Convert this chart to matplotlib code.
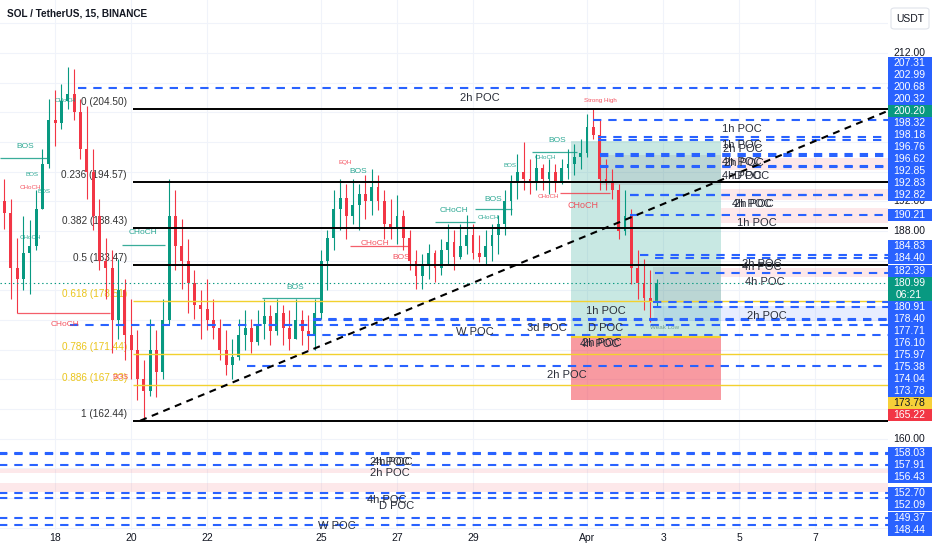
import numpy as np
import matplotlib.pyplot as plt
from matplotlib.patches import Rectangle, FancyBboxPatch

plt.rcParams['font.family'] = ['Liberation Sans', 'DejaVu Sans']
plt.rcParams['lines.scale_dashes'] = False

# ---------------- data ----------------
# 4h bars, time in "day of March" (Apr 1 = 32)
bar_start = 16.5
first_open = 190.0
closes = [192, 190.5, 183, 181.5, 185, 186, 191, 197, 203, 202.5,
          205.5, 206.5, 204, 199, 196, 190, 184, 183, 176, 180,
          174, 172, 168, 166.5, 172, 169, 176, 190, 186, 184,
          181, 178, 177.5, 176, 175, 172, 170, 171, 174, 175,
          173, 175.5, 176.5, 174.5, 177, 175, 173.5, 176, 174.5, 174,
          177, 184, 187, 191, 192.5, 190, 191.5, 193, 192, 194,
          192, 189, 188.5, 190, 187, 184, 182, 183.5, 185, 183,
          185.5, 186.5, 184.5, 186, 187.5, 185, 184.5, 186, 187.5, 189,
          192, 194.5, 196, 195, 194.5, 196.5, 195, 196, 194.5, 196.5,
          197, 198, 198.5, 202, 201, 195, 194.5, 193.5, 188, 190,
          183, 181, 179, 178.5, 180.99]
highs = [195.6, 195, 192.3, 187, 190, 189.5, 193.5, 199, 205.8, 207,
         207.8, 210.1, 209.8, 205.8, 204.8, 199, 192.3, 187, 185.5, 184.2,
         181.5, 178.8, 174.7, 170.6, 176.1, 174.7, 178.8, 195, 193.6, 189.6,
         186.9, 182.8, 180, 181.5, 178.8, 176.1, 174.7, 173.4, 176.1, 177.4,
         176.1, 177.4, 178.8, 178.1, 178.8, 178.1, 177.4, 178.8, 177.4, 176.7,
         178.8, 185.5, 188.2, 193.6, 195, 194.3, 195, 194.3, 195.6, 196.3,
         195.6, 193.6, 192.3, 192.9, 190.9, 188.2, 185.5, 184.9, 186.2, 185.5,
         186.9, 188.9, 188.2, 188.9, 190.2, 188.9, 187.5, 188.2, 188.9, 190.2,
         193.6, 195.6, 198.4, 200, 197.7, 198.4, 197, 197.7, 197, 197.7,
         199, 199.7, 200.4, 203.8, 204.4, 203, 197.7, 196.3, 194.3, 193.6,
         191, 185.5, 184.2, 182.8, 181.5]
lows = [187.5, 188.3, 178.8, 177, 180, 179.5, 185.5, 191, 196.5, 199.5,
        201.8, 204.4, 203, 197.7, 192.3, 188.2, 182.8, 178.8, 171.6, 173.4,
        170.6, 168, 165.2, 162.44, 165.8, 165.6, 168, 175.5, 182.8, 180.2,
        177, 176.1, 173.4, 174.7, 173.4, 170.6, 168.6, 168, 170.6, 172,
        171.5, 172.7, 173.4, 172.7, 174, 172.7, 172, 173.4, 172.7, 172,
        172, 176.1, 180, 185.5, 188.2, 186.9, 188.9, 188.2, 189.6, 190.2,
        190.9, 186.9, 186.9, 186.2, 185.5, 182.8, 180.2, 180.2, 181.5, 181.1,
        182.1, 183.5, 182.8, 184.2, 184.9, 184.2, 183.8, 183.5, 183.9, 184.9,
        187.5, 190.2, 192.3, 193.6, 193, 193.6, 193.6, 193, 193.3, 194.3,
        195, 195.6, 196.3, 198, 200.4, 193.6, 193.6, 192.3, 186.9, 187.5,
        180.8, 178.8, 177.4, 175.8, 177.7]

current_price = 180.99
countdown = "06:21"

# Fibonacci retracement
fib_high, fib_low = 204.50, 162.44
fib_levels = [0, 0.236, 0.382, 0.5, 0.618, 0.786, 0.886, 1]
fib_start = 20.05

# trend line anchors
trend_days = [20.24, 39.92]
trend_prices = [162.44, 204.2]

# long position tool
pos_start, pos_end = 31.58, 35.53
pos_entry, pos_target, pos_stop = 173.78, 200.20, 165.22

# POC lines (price, first day)
poc_prices = [207.31, 202.99, 200.68, 200.32, 198.32, 198.18, 196.76, 196.62,
              192.85, 192.83, 192.82, 190.21, 184.83, 184.40, 182.39, 178.40,
              177.71, 176.10, 175.97, 175.38, 174.04, 169.82,
              158.03, 157.91, 156.43, 152.70, 152.09, 149.37, 148.44]
poc_starts = [18.6, 32.16, 32.29, 32.29, 32.34, 32.34, 32.34, 32.34,
              33.13, 33.13, 33.13, 33.13, 33.39, 33.79, 33.79, 33.74,
              33.74, 24.79, 24.79, 18.39, 24.63, 23.05,
              16.0, 16.0, 16.0, 16.0, 16.0, 16.0, 16.0]

# POC names (text, day, price)
poc_names = [("2h POC", 29.18, 205.94), ("1h POC", 36.08, 201.76),
             ("1h POC", 36.08, 199.6), ("2h POC", 36.1, 199.06),
             ("4h POC", 36.08, 197.31), ("2h POC", 36.12, 197.15),
             ("4h POC", 36.08, 195.42), ("D POC", 36.34, 195.42),
             ("4h POC", 36.34, 191.65), ("2h POC", 36.38, 191.65),
             ("1h POC", 36.47, 189.09), ("2h POC", 36.6, 183.56),
             ("4h POC", 36.6, 183.16), ("4h POC", 36.68, 181.14),
             ("2h POC", 36.74, 176.56), ("1h POC", 32.5, 177.23),
             ("D POC", 32.5, 174.94), ("3d POC", 30.95, 174.94),
             ("W POC", 29.05, 174.4), ("4h POC", 32.34, 172.78),
             ("2h POC", 32.39, 172.98), ("2h POC", 31.47, 168.6),
             ("2h POC", 26.82, 156.88), ("4h POC", 26.9, 156.88),
             ("2h POC", 26.82, 155.4), ("4h POC", 26.74, 151.76),
             ("D POC", 27.0, 150.95), ("W POC", 25.42, 148.25)]

# supply / demand zones (low, high, first day, colour)
zones = [(196.23, 197.85, 35.53, '#f23645'), (192.19, 193.67, 35.53, '#f23645'),
         (189.09, 191.11, 35.53, '#f23645'), (181.81, 183.02, 35.53, '#f23645'),
         (175.9, 177.9, 33.76, '#2962ff'),
         (155.4, 155.93, 16.0, '#f23645'), (152.84, 154.05, 16.0, '#f23645')]
order_blocks = [(194.2, 198.3, 32.34, 35.53), (178.3, 183.2, 33.74, 35.53)]

# structure labels (text, day, price, colour, size)
smc_labels = [("BOS", 17.21, 199.33, 'g', 6), ("CHoCH", 18.26, 205.53, 'g', 4.5),
              ("CHoCH", 20.32, 187.74, 'g', 6), ("BOS", 24.32, 180.33, 'g', 6),
              ("BOS", 25.97, 195.96, 'g', 6), ("CHoCH", 28.5, 190.71, 'g', 6),
              ("BOS", 29.53, 192.32, 'g', 6), ("BOS", 31.21, 200.14, 'g', 6),
              ("BOS", 17.39, 195.56, 'g', 4.5), ("BOS", 17.71, 193.27, 'g', 4.5),
              ("CHoCH", 17.34, 187.07, 'g', 4.5), ("CHoCH", 29.39, 189.76, 'g', 4.5),
              ("CHoCH", 30.89, 197.85, 'g', 4.5), ("BOS", 29.97, 196.9, 'g', 4.5),
              ("CHoCH", 18.26, 175.34, 'r', 6), ("BOS", 19.71, 168.33, 'r', 5.5),
              ("CHoCH", 26.42, 186.39, 'r', 6), ("BOS", 27.1, 184.37, 'r', 6),
              ("CHoCH", 31.89, 191.51, 'r', 6.5), ("EQH", 25.63, 197.18, 'r', 4.5),
              ("CHoCH", 17.34, 193.81, 'r', 4.5), ("CHoCH", 30.97, 192.59, 'r', 4.5),
              ("Strong High", 32.34, 205.53, 'r', 4.5), ("Weak Low", 34.05, 174.94, 'w', 4.5)]
smc_lines = [(197.85, 16.55, 17.82, 'g'), (186.12, 19.76, 20.89, 'g'),
             (178.98, 23.45, 25.03, 'g'), (189.22, 28.0, 29.05, 'g'),
             (190.98, 29.05, 30.03, 'g'), (198.66, 30.55, 31.74, 'g'),
             (176.96, 17.0, 19.45, 'r'), (185.99, 25.76, 27.34, 'r'),
             (193.13, 31.29, 32.61, 'r')]

# price scale labels
axis_values = [207.31, 202.99, 200.68, 200.32, 200.20, 198.32, 198.18, 196.76,
               196.62, 192.85, 192.83, 192.82, 190.21, 184.83, 184.40, 182.39,
               180.91, 178.40, 177.71, 176.10, 175.97, 175.38, 174.04, 173.78,
               173.78, 165.22, 158.03, 157.91, 156.43, 152.70, 152.09, 149.37, 148.44]
axis_kinds = ['b', 'b', 'b', 'b', 'g', 'b', 'b', 'b',
              'b', 'b', 'b', 'b', 'b', 'b', 'b', 'b',
              'b', 'b', 'b', 'b', 'b', 'b', 'b', 'b',
              'y', 'r', 'b', 'b', 'b', 'b', 'b', 'b', 'b']
price_ticks = list(range(148, 217, 4))

date_ticks = [18, 20, 22, 25, 27, 29, 32, 34, 36, 38]
date_labels = ['18', '20', '22', '25', '27', '29', 'Apr', '3', '5', '7']

# ---------------- styles ----------------
UP, DOWN = '#089981', '#f23645'
BLUE = '#2962ff'
YELLOW = '#f2d12e'
TXT = '#131722'
SMC_COL = {'g': '#089981', 'r': '#f23645', 'w': '#5d8f86'}
KIND_COL = {'b': BLUE, 'g': '#089981', 'y': '#f7d038', 'r': '#f23645'}

W, H = 932, 550
fig = plt.figure(figsize=(W / 100, H / 100), dpi=100, facecolor='white')
ax = fig.add_axes([0, 20 / H, 888 / W, 530 / H])
xmin, xmax = 16.55, 39.92
ymin, ymax = 147.71, 219.14
ax.set_xlim(xmin, xmax)
ax.set_ylim(ymin, ymax)
ax.set_axis_off()

# grid
for p in price_ticks:
    ax.axhline(p, color='#f0f3fa', lw=0.8, zorder=0)
for d in date_ticks:
    ax.axvline(d, color='#f0f3fa', lw=0.8, zorder=0)

# zones
for lo, hi, d0, col in zones:
    ax.add_patch(Rectangle((d0, lo), xmax + 1 - d0, hi - lo, color=col, alpha=0.11, lw=0, zorder=1))

# position tool
ax.add_patch(Rectangle((pos_start, pos_entry), pos_end - pos_start, pos_target - pos_entry,
                       color='#089981', alpha=0.22, lw=0, zorder=1))
ax.add_patch(Rectangle((pos_start, pos_stop), pos_end - pos_start, pos_entry - pos_stop,
                       color='#f23645', alpha=0.5, lw=0, zorder=1))
for lo, hi, d0, d1 in order_blocks:
    ax.add_patch(Rectangle((d0, lo), d1 - d0, hi - lo, color='#787b86', alpha=0.16, lw=0, zorder=1))

# fib retracement
rng = fib_high - fib_low
for lvl in fib_levels:
    p = fib_high - lvl * rng
    col = YELLOW if lvl in (0.618, 0.786, 0.886) else 'black'
    lw = 1.0 if col == YELLOW else 1.4
    ax.hlines(p, fib_start, xmax + 1, colors=col, lw=lw, zorder=4)
    ax.text(19.89, p + 0.95, f"{lvl:g} ({p:.2f})", ha='right', va='center',
            fontsize=7.2, color='#eac51c' if col == YELLOW else '#333333', zorder=2)

# candles
n = len(closes)
t = bar_start + np.arange(n) / 6
opens = [first_open] + closes[:-1]
bw = 0.45 / 6
for ti, o, h, l, c in zip(t, opens, highs, lows, closes):
    col = UP if c >= o else DOWN
    ax.vlines(ti, l, h, colors=col, lw=0.8, zorder=3)
    ax.add_patch(Rectangle((ti - bw / 2, min(o, c)), bw, max(abs(c - o), 0.12),
                           color=col, lw=0, zorder=3))

# structure lines and labels
for p, d0, d1, k in smc_lines:
    ax.hlines(p, d0, d1, colors=SMC_COL[k], lw=0.9, alpha=0.8, zorder=3)
for txt, d, p, k, s in smc_labels:
    ax.text(d, p, txt, ha='center', va='center', fontsize=s, color=SMC_COL[k], alpha=0.85, zorder=5)

# POC lines
for p, d0 in zip(poc_prices, poc_starts):
    ax.hlines(p, d0, xmax + 1, colors=BLUE, lw=1.5, linestyles=(0, (6, 5)), zorder=4)
for txt, d, p in poc_names:
    ax.text(d, p, txt, ha='center', va='center', fontsize=8, color='#2a2e39', zorder=6)

# position entry line
ax.hlines(pos_entry, pos_start, pos_end, colors=YELLOW, lw=1.5, zorder=4)

# trend line
ax.plot(trend_days, trend_prices, color='black', lw=1.5, ls=(0, (5, 4)), zorder=4)

# current price line
ax.axhline(current_price, color='#089981', lw=0.8, ls=(0, (1, 2)), zorder=4)

# ---------------- price scale ----------------
def ypx(p):
    return H - 20 - (p - ymin) / (ymax - ymin) * 530

def fy(y):
    return 1 - y / H

for p in price_ticks:
    fig.text(909 / W, fy(ypx(p)), f"{p:.2f}", ha='center', va='center',
             fontsize=7.5, color=TXT, zorder=1)

placed = {}
cur_y = ypx(current_price)
limit = cur_y - 6
for i in sorted([i for i, v in enumerate(axis_values) if v > current_price], key=lambda i: axis_values[i]):
    y = min(ypx(axis_values[i]), limit - 6)
    placed[i] = y
    limit = y - 6
limit = cur_y + 18
for i in sorted([i for i, v in enumerate(axis_values) if v < current_price], key=lambda i: -axis_values[i]):
    y = max(ypx(axis_values[i]), limit + 6)
    placed[i] = y
    limit = y + 6

for i, y in placed.items():
    k = axis_kinds[i]
    fig.add_artist(Rectangle((888 / W, fy(y + 6)), 44 / W, 12 / H,
                             transform=fig.transFigure, color=KIND_COL[k], lw=0, zorder=2))
    fig.text(909 / W, fy(y), f"{axis_values[i]:.2f}", ha='center', va='center',
             fontsize=7.5, color=TXT if k == 'y' else 'white', zorder=3)

fig.add_artist(Rectangle((888 / W, fy(cur_y + 18)), 44 / W, 24 / H,
                         transform=fig.transFigure, color='#089981', lw=0, zorder=2))
fig.text(909 / W, fy(cur_y), f"{current_price:.2f}", ha='center', va='center',
         fontsize=7.5, color='white', zorder=3)
fig.text(909 / W, fy(cur_y + 11.5), countdown, ha='center', va='center',
         fontsize=7.5, color='white', zorder=3)

# USDT box
fig.add_artist(FancyBboxPatch((891 / W, fy(29)), 38 / W, 21 / H,
                              boxstyle='round,pad=0,rounding_size=0.004',
                              transform=fig.transFigure, facecolor='white',
                              edgecolor='#e0e3eb', lw=0.8, zorder=4))
fig.text(910 / W, fy(18.5), "USDT", ha='center', va='center', fontsize=7.5, color=TXT, zorder=5)

# time axis
for d, lab in zip(date_ticks, date_labels):
    xp = (d - xmin) / (xmax - xmin) * 888
    fig.text(xp / W, fy(538), lab, ha='center', va='center', fontsize=7.5, color=TXT)

# title
fig.text(7 / W, fy(14), "SOL / TetherUS, 15, BINANCE", ha='left', va='center',
         fontsize=7.2, color=TXT, fontweight='bold')

fig.savefig('out.png', dpi=100, facecolor='white')
